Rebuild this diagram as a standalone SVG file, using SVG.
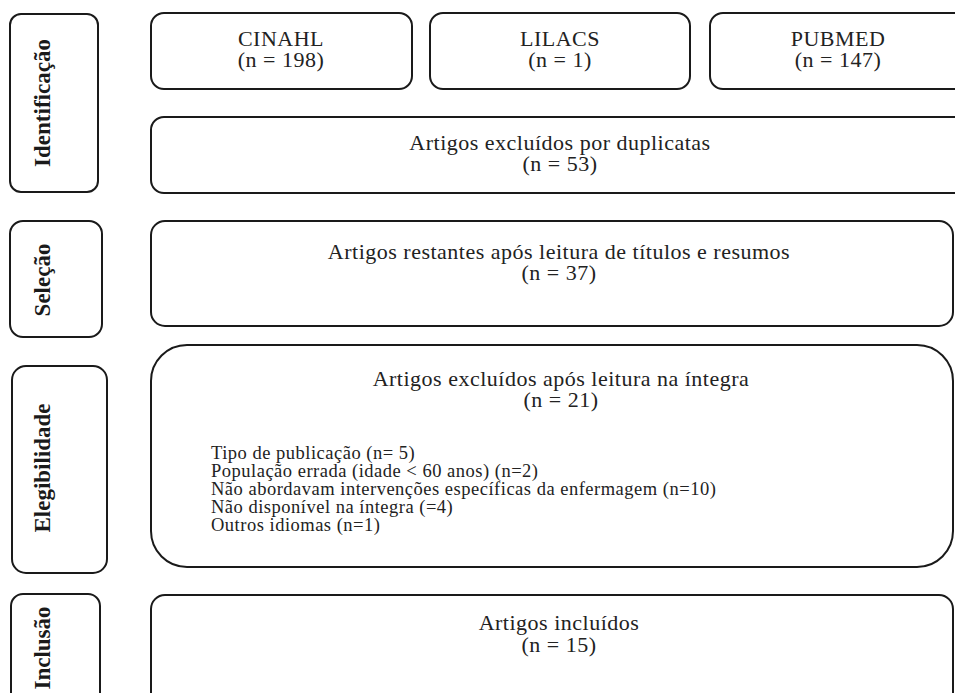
<svg xmlns="http://www.w3.org/2000/svg" width="955" height="693" viewBox="0 0 955 693">
<style>
.b{fill:#fff;stroke:#1a1a1a;stroke-width:2}
.t{font-size:22px;fill:#222;text-anchor:middle;letter-spacing:0.5px}
.l{font-size:18.5px;fill:#222;letter-spacing:0.5px}
.s{font-size:23px;font-weight:bold;fill:#1a1a1a;text-anchor:middle}
</style>
<rect width="955" height="693" fill="#fff"/>
<g id="stage-identificacao"><rect class="b" x="10" y="14" width="88" height="178" rx="11"/><text class="s" font-family="Liberation Serif" transform="translate(50,103) rotate(-90)">Identificação</text></g>
<g id="stage-selecao"><rect class="b" x="10" y="221" width="92" height="116" rx="13"/><text class="s" font-family="Liberation Serif" transform="translate(50,280) rotate(-90)">Seleção</text></g>
<g id="stage-elegibilidade"><rect class="b" x="12" y="366" width="95" height="207" rx="14"/><text class="s" font-family="Liberation Serif" transform="translate(50,468) rotate(-90)">Elegibilidade</text></g>
<g id="stage-inclusao"><rect class="b" x="11" y="594" width="89" height="120" rx="12"/><text class="s" font-family="Liberation Serif" transform="translate(50,648) rotate(-90)">Inclusão</text></g>
<g id="cinahl"><rect class="b" x="151" y="13" width="261" height="76" rx="13"/><text class="t" font-family="Liberation Serif" x="281" y="46">CINAHL</text><text class="t" font-family="Liberation Serif" x="281" y="67">(n = 198)</text></g>
<g id="lilacs"><rect class="b" x="430" y="13" width="260" height="76" rx="13"/><text class="t" font-family="Liberation Serif" x="560" y="46">LILACS</text><text class="t" font-family="Liberation Serif" x="560" y="67">(n = 1)</text></g>
<g id="pubmed"><rect class="b" x="710" y="13" width="260" height="76" rx="13"/><text class="t" font-family="Liberation Serif" x="838" y="46">PUBMED</text><text class="t" font-family="Liberation Serif" x="838" y="67">(n = 147)</text></g>
<g id="duplicatas"><rect class="b" x="151" y="117" width="830" height="76" rx="13"/><text class="t" font-family="Liberation Serif" x="560" y="150">Artigos excluídos por duplicatas</text><text class="t" font-family="Liberation Serif" x="560" y="171">(n = 53)</text></g>
<g id="selecao"><rect class="b" x="151" y="221" width="802" height="105" rx="14"/><text class="t" font-family="Liberation Serif" x="559" y="259">Artigos restantes após leitura de títulos e resumos</text><text class="t" font-family="Liberation Serif" x="559" y="280">(n = 37)</text></g>
<g id="elegibilidade"><rect class="b" x="151" y="345" width="802" height="222" rx="36"/><text class="t" font-family="Liberation Serif" x="561" y="386">Artigos excluídos após leitura na íntegra</text><text class="t" font-family="Liberation Serif" x="561" y="407">(n = 21)</text>
<text class="l" font-family="Liberation Serif" x="211" y="459">Tipo de publicação (n= 5)</text>
<text class="l" font-family="Liberation Serif" x="211" y="477">População errada (idade &lt; 60 anos) (n=2)</text>
<text class="l" font-family="Liberation Serif" x="211" y="495">Não abordavam intervenções específicas da enfermagem (n=10)</text>
<text class="l" font-family="Liberation Serif" x="211" y="513">Não disponível na íntegra (=4)</text>
<text class="l" font-family="Liberation Serif" x="211" y="531">Outros idiomas (n=1)</text></g>
<g id="inclusao"><rect class="b" x="151" y="595" width="802" height="120" rx="14"/><text class="t" font-family="Liberation Serif" x="559" y="630">Artigos incluídos</text><text class="t" font-family="Liberation Serif" x="559" y="652">(n = 15)</text></g>
<g id="connectors"></g>
</svg>
